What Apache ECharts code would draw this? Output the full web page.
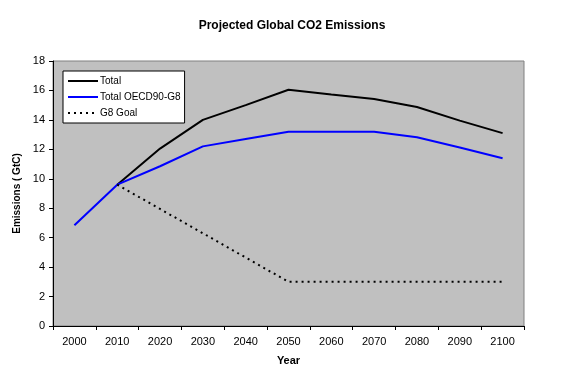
<!DOCTYPE html>
<html><head><meta charset="utf-8">
<script src="https://cdn.jsdelivr.net/npm/echarts@6/dist/echarts.min.js"></script>
<style>html,body{margin:0;padding:0;background:#fff}#c{width:576px;height:384px}</style>
</head><body><div id="c"></div>
<script>
const years = ['2000','2010','2020','2030','2040','2050','2060','2070','2080','2090','2100'];
const total = [null, 9.6, 12.05, 14.0, 15.0, 16.05, 15.72, 15.42, 14.88, 13.95, 13.1];
const totalOECD = [6.85, 9.6, 10.85, 12.2, 12.7, 13.2, 13.2, 13.2, 12.82, 12.12, 11.4];
const g8Goal = [null, 9.6, 7.95, 6.3, 4.65, 3.0, 3.0, 3.0, 3.0, 3.0, 3.0];

const chart = echarts.init(document.getElementById('c'), null, {renderer:'canvas'});
const font = 'Arial, "Liberation Sans", sans-serif';
chart.setOption({
  animation: false,
  backgroundColor: '#fff',
  title: {
    text: 'Projected Global CO2 Emissions',
    left: 287, top: 15, textAlign: 'center',
    textStyle: {fontFamily: font, fontSize: 12, fontWeight: 'bold', color: '#000'}
  },
  legend: {
    orient: 'vertical', left: 63, top: 71,
    backgroundColor: '#fff', borderColor: '#000', borderWidth: 1,
    padding: [5, 4, 5, 4], itemWidth: 30, itemHeight: 10, itemGap: 6,
    itemStyle: {opacity: 0},
    textStyle: {fontFamily: font, fontSize: 10, color: '#000', padding: [0,0,0,-3]},
    data: ['Total', 'Total OECD90-G8', 'G8 Goal']
  },
  grid: {
    left: 53, right: 52, top: 61, bottom: 58,
    show: true, backgroundColor: '#C0C0C0', borderColor: '#808080', borderWidth: 1
  },
  xAxis: {
    type: 'category', data: years, boundaryGap: true,
    name: 'Year', nameLocation: 'middle', nameGap: 29,
    nameTextStyle: {fontFamily: font, fontSize: 11, fontWeight: 'bold', color: '#000'},
    axisLine: {lineStyle: {color: '#000', width: 1}},
    axisTick: {show: true, length: 4, lineStyle: {color: '#000'}},
    axisLabel: {fontFamily: font, fontSize: 11, color: '#000', margin: 10},
    splitLine: {show: false}
  },
  yAxis: {
    type: 'value', min: 0, max: 18, interval: 2,
    name: 'Emissions ( GtC)', nameLocation: 'middle', nameGap: 27,
    nameTextStyle: {fontFamily: font, fontSize: 10, fontWeight: 'bold', color: '#000'},
    axisLine: {show: true, lineStyle: {color: '#000', width: 1}},
    axisTick: {show: true, length: 4, lineStyle: {color: '#000'}},
    axisLabel: {fontFamily: font, fontSize: 11, color: '#000', margin: 8},
    splitLine: {show: false}
  },
  series: [
    {name: 'Total', type: 'line', data: total, symbol: 'none',
     lineStyle: {color: '#000', width: 2}, itemStyle: {color: '#000'}},
    {name: 'Total OECD90-G8', type: 'line', data: totalOECD, symbol: 'none',
     lineStyle: {color: '#0000FF', width: 2}, itemStyle: {color: '#0000FF'}},
    {name: 'G8 Goal', type: 'line', data: g8Goal, symbol: 'none',
     lineStyle: {color: '#000', width: 2, type: [2, 4]}, itemStyle: {color: '#000'}}
  ]
});
</script></body></html>
